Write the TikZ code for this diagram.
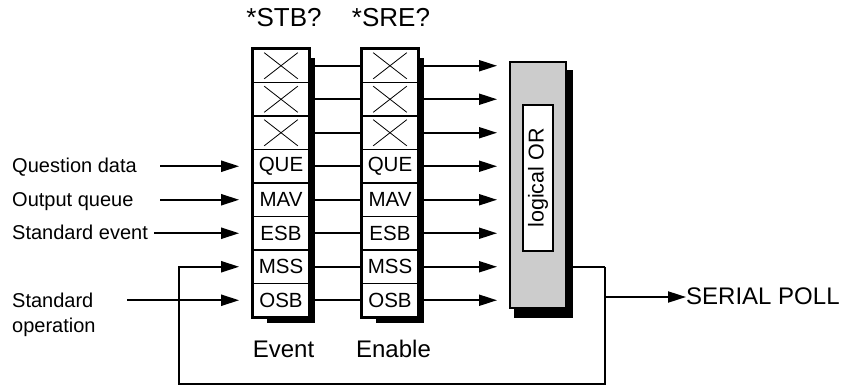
\documentclass[tikz,border=0pt]{standalone}
\usepackage{fontspec}
\setmainfont{Liberation Sans}
\usetikzlibrary{arrows.meta}
\begin{document}
\begin{tikzpicture}[x=1pt,y=-1pt,
 cell/.style={draw, line width=1.7pt, fill=white, minimum width=56pt, minimum height=33.5pt, inner sep=0pt, font=\fontsize{20.5}{20.5}\selectfont},
 conn/.style={line width=2pt},
 arr/.style={line width=2pt, -{Triangle[length=18pt,width=11pt]}},
 lbl/.style={anchor=base west, inner sep=0pt, font=\fontsize{20}{22}\selectfont},
 big/.style={anchor=base, inner sep=0pt, font=\fontsize{24}{24}\selectfont},
 shad/.style={fill=black},
 xline/.style={line width=0.8pt}
]
\useasboundingbox (0,0) rectangle (858,387);

% cell positions
\foreach \i in {1,...,8}{
  \coordinate (evc\i) at (281, {49+33.5*(\i-0.5)});
  \coordinate (enc\i) at (390, {49+33.5*(\i-0.5)});
}
% OR box
\fill[shad] (514,70) rectangle (573,318);
\node[draw, line width=2pt, fill=black!20, minimum width=56pt, minimum height=246pt, inner sep=0pt] (or) at (538,185) {};
\node[draw, line width=1.8pt, fill=white, minimum width=30pt, minimum height=146pt, inner sep=0pt] (orin) at (538,178) {};
\node[rotate=90, inner sep=0pt, font=\fontsize{21.5}{21.5}\selectfont] (ortext) at (orin) {logical OR};

% event -> enable lines and enable -> OR arrows
\foreach \i in {1,...,8}{
  \draw[conn] (evc\i) -- (enc\i);
  \draw[arr] (enc\i) -- ([xshift=-12pt]or.west |- enc\i);
}

% shadows of the registers
\fill[shad] (267,58) rectangle (315,323);
\fill[shad] (376,58) rectangle (424,323);

% cells
\foreach \i/\t in {1/,2/,3/,4/QUE,5/MAV,6/ESB,7/MSS,8/OSB}{
  \node[cell] (ev\i) at (evc\i) {\t};
  \node[cell] (en\i) at (enc\i) {\t};
}
\foreach \i in {1,2,3}{
  \foreach \r in {ev,en}{
    \draw[xline] ([shift={(12,4.5)}]\r\i.north west) -- ([shift={(-12,-4.5)}]\r\i.south east);
    \draw[xline] ([shift={(-12,4.5)}]\r\i.north east) -- ([shift={(12,-4.5)}]\r\i.south west);
  }
}
\draw[line width=2.4pt] (ev1.north west) rectangle (ev8.south east);
\draw[line width=2.4pt] (en1.north west) rectangle (en8.south east);

% headers and footers
\node[big, font=\fontsize{26}{26}\selectfont] (hstb) at (284,27) {*STB?};
\node[big, font=\fontsize{26}{26}\selectfont] (hsre) at (391,27) {*SRE?};
\node[big] (lev) at (283.5,357) {Event};
\node[big] (len) at (393.5,357) {Enable};

% input labels and arrows
\node[lbl] (lq) at (12,{49+33.5*3.5+6.5}) {Question data};
\node[lbl] (lo) at (12,{49+33.5*4.5+6.5}) {Output queue};
\node[lbl] (ls) at (12,{49+33.5*5.5+6.5}) {Standard event};
\node[lbl] (lso1) at (12,307) {Standard};
\node[lbl] (lso2) at (12,332) {operation};
\coordinate (q0) at (160,{49+33.5*3.5});
\coordinate (o0) at (160,{49+33.5*4.5});
\coordinate (s0) at (154,{49+33.5*5.5});
\coordinate (so0) at (127,{49+33.5*7.5});
\draw[arr] (q0) -- ([xshift=-13pt]ev4.west);
\draw[arr] (o0) -- ([xshift=-13pt]ev5.west);
\draw[arr] (s0) -- ([xshift=-13pt]ev6.west);
\draw[arr] (so0) -- ([xshift=-13pt]ev8.west);

% output and feedback
\coordinate (fb1) at (605,384);
\coordinate (fb2) at (179,384);
\coordinate (jn) at (605,297);
\node[big, anchor=base west] (sp) at (686,304) {SERIAL POLL};
\draw[conn] (or.east |- ev7) -- (fb1 |- ev7);
\draw[arr] (fb1 |- ev7) -- (fb1) -- (fb2) -- (fb2 |- ev7) -- ([xshift=-13pt]ev7.west);
\draw[arr] (jn) -- (jn -| sp.west);
\end{tikzpicture}
\end{document}
